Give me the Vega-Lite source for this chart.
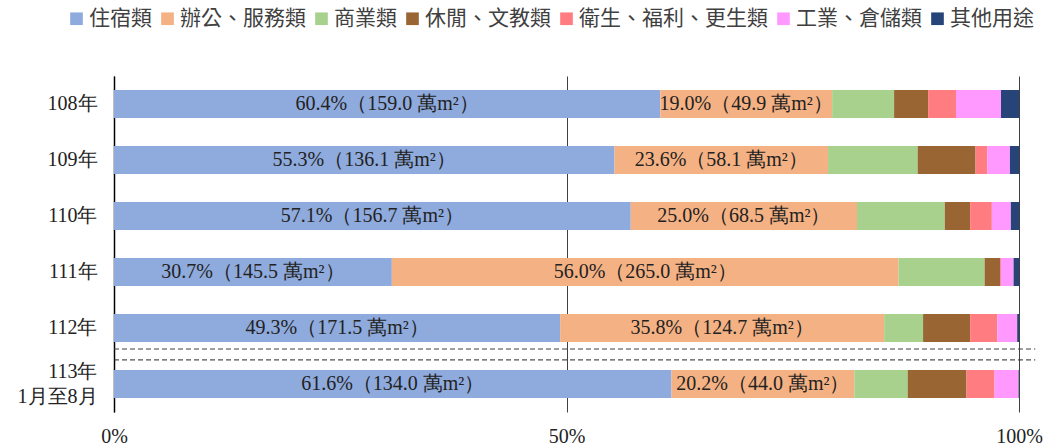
{
  "$schema": "https://vega.github.io/schema/vega-lite/v6.json",
  "width": 905,
  "height": 336,
  "autosize": {"type": "none"},
  "padding": {"left": 114, "top": 76, "right": 25, "bottom": 33},
  "background": "white",
  "config": {"view": {"stroke": null}},
  "data": {
    "values": [
      {"year": "108年", "cat": "住宿類", "k": 1, "pct": 60.4, "label": "60.4%（159.0 萬m²）"},
      {"year": "108年", "cat": "辦公、服務類", "k": 2, "pct": 19.0, "label": "19.0%（49.9 萬m²）"},
      {"year": "108年", "cat": "商業類", "k": 3, "pct": 6.85, "label": ""},
      {"year": "108年", "cat": "休閒、文教類", "k": 4, "pct": 3.76, "label": ""},
      {"year": "108年", "cat": "衛生、福利、更生類", "k": 5, "pct": 3.09, "label": ""},
      {"year": "108年", "cat": "工業、倉儲類", "k": 6, "pct": 4.97, "label": ""},
      {"year": "108年", "cat": "其他用途", "k": 7, "pct": 1.99, "label": ""},
      {"year": "109年", "cat": "住宿類", "k": 1, "pct": 55.3, "label": "55.3%（136.1 萬m²）"},
      {"year": "109年", "cat": "辦公、服務類", "k": 2, "pct": 23.6, "label": "23.6%（58.1 萬m²）"},
      {"year": "109年", "cat": "商業類", "k": 3, "pct": 9.9, "label": ""},
      {"year": "109年", "cat": "休閒、文教類", "k": 4, "pct": 6.4, "label": ""},
      {"year": "109年", "cat": "衛生、福利、更生類", "k": 5, "pct": 1.3, "label": ""},
      {"year": "109年", "cat": "工業、倉儲類", "k": 6, "pct": 2.5, "label": ""},
      {"year": "109年", "cat": "其他用途", "k": 7, "pct": 1.0, "label": ""},
      {"year": "110年", "cat": "住宿類", "k": 1, "pct": 57.1, "label": "57.1%（156.7 萬m²）"},
      {"year": "110年", "cat": "辦公、服務類", "k": 2, "pct": 25.0, "label": "25.0%（68.5 萬m²）"},
      {"year": "110年", "cat": "商業類", "k": 3, "pct": 9.7, "label": ""},
      {"year": "110年", "cat": "休閒、文教類", "k": 4, "pct": 2.8, "label": ""},
      {"year": "110年", "cat": "衛生、福利、更生類", "k": 5, "pct": 2.4, "label": ""},
      {"year": "110年", "cat": "工業、倉儲類", "k": 6, "pct": 2.1, "label": ""},
      {"year": "110年", "cat": "其他用途", "k": 7, "pct": 0.9, "label": ""},
      {"year": "111年", "cat": "住宿類", "k": 1, "pct": 30.7, "label": "30.7%（145.5 萬m²）"},
      {"year": "111年", "cat": "辦公、服務類", "k": 2, "pct": 56.0, "label": "56.0%（265.0 萬m²）"},
      {"year": "111年", "cat": "商業類", "k": 3, "pct": 9.5, "label": ""},
      {"year": "111年", "cat": "休閒、文教類", "k": 4, "pct": 1.7, "label": ""},
      {"year": "111年", "cat": "衛生、福利、更生類", "k": 5, "pct": 0.1, "label": ""},
      {"year": "111年", "cat": "工業、倉儲類", "k": 6, "pct": 1.4, "label": ""},
      {"year": "111年", "cat": "其他用途", "k": 7, "pct": 0.6, "label": ""},
      {"year": "112年", "cat": "住宿類", "k": 1, "pct": 49.3, "label": "49.3%（171.5 萬m²）"},
      {"year": "112年", "cat": "辦公、服務類", "k": 2, "pct": 35.8, "label": "35.8%（124.7 萬m²）"},
      {"year": "112年", "cat": "商業類", "k": 3, "pct": 4.3, "label": ""},
      {"year": "112年", "cat": "休閒、文教類", "k": 4, "pct": 5.2, "label": ""},
      {"year": "112年", "cat": "衛生、福利、更生類", "k": 5, "pct": 3.0, "label": ""},
      {"year": "112年", "cat": "工業、倉儲類", "k": 6, "pct": 2.2, "label": ""},
      {"year": "112年", "cat": "其他用途", "k": 7, "pct": 0.2, "label": ""},
      {"year": "113年1月至8月", "cat": "住宿類", "k": 1, "pct": 61.6, "label": "61.6%（134.0 萬m²）"},
      {"year": "113年1月至8月", "cat": "辦公、服務類", "k": 2, "pct": 20.2, "label": "20.2%（44.0 萬m²）"},
      {"year": "113年1月至8月", "cat": "商業類", "k": 3, "pct": 5.9, "label": ""},
      {"year": "113年1月至8月", "cat": "休閒、文教類", "k": 4, "pct": 6.5, "label": ""},
      {"year": "113年1月至8月", "cat": "衛生、福利、更生類", "k": 5, "pct": 3.1, "label": ""},
      {"year": "113年1月至8月", "cat": "工業、倉儲類", "k": 6, "pct": 2.65, "label": ""},
      {"year": "113年1月至8月", "cat": "其他用途", "k": 7, "pct": 0.05, "label": ""}
    ]
  },
  "layer": [
    {
      "mark": {"type": "bar"},
      "encoding": {
        "y": {
          "field": "year", "type": "nominal", "sort": null,
          "scale": {"domain": ["108年", "109年", "110年", "111年", "112年", "113年1月至8月"], "paddingInner": 0.5, "paddingOuter": 0.25},
          "axis": {
            "title": null, "ticks": false, "domain": true, "domainColor": "#000000", "domainWidth": 1.5,
            "labelFont": "Liberation Serif", "labelFontSize": 20, "labelColor": "#222222",
            "labelPadding": 17, "labelLineHeight": 25,
            "labelOffset": {"condition": {"test": "datum.value == '113年1月至8月'", "value": -12.5}, "value": 0},
            "labelExpr": "datum.value == '113年1月至8月' ? ['113年', '1月至8月'] : datum.value"
          }
        },
        "x": {
          "field": "pct", "type": "quantitative", "stack": "normalize",
          "scale": {"domain": [0, 1]},
          "axis": {
            "title": null, "values": [0, 0.5, 1], "format": ".0%", "grid": true, "gridColor": "#404040", "gridWidth": 1,
            "domain": false, "ticks": false, "labelFlush": false,
            "labelFont": "Liberation Serif", "labelFontSize": 20, "labelColor": "#222222", "labelPadding": 14
          }
        },
        "color": {
          "field": "cat", "type": "nominal",
          "scale": {
            "domain": ["住宿類", "辦公、服務類", "商業類", "休閒、文教類", "衛生、福利、更生類", "工業、倉儲類", "其他用途"],
            "range": ["#8FAADC", "#F4B183", "#A9D18E", "#996633", "#FF7C80", "#FF99FF", "#264478"]
          },
          "legend": {
            "title": null, "orient": "none", "legendX": -48, "legendY": -68, "direction": "horizontal",
            "symbolType": "square", "symbolSize": 160, "symbolStrokeWidth": 0,
            "labelFont": "Noto Sans CJK TC", "labelFontSize": 21, "labelColor": "#404040", "labelLimit": 400,
            "columnPadding": 5, "labelOffset": 2
          }
        },
        "order": {"field": "k", "type": "quantitative"}
      }
    },
    {
      "mark": {"type": "text", "font": "Liberation Serif", "fontSize": 20, "color": "#222222", "align": "center", "baseline": "middle"},
      "encoding": {
        "y": {"field": "year", "type": "nominal", "sort": null},
        "x": {"field": "pct", "type": "quantitative", "stack": "normalize", "bandPosition": 0.5},
        "detail": {"field": "cat"},
        "text": {"field": "label"},
        "order": {"field": "k", "type": "quantitative"}
      }
    },
    {
      "data": {"values": [{}]},
      "mark": {"type": "rule", "strokeDash": [5, 3], "strokeWidth": 1},
      "encoding": {
        "x": {"datum": 0, "type": "quantitative"},
        "x2": {"datum": 1.018},
        "y": {"datum": "112年", "type": "nominal", "bandPosition": 1.25},
        "color": {"value": "#404040"}
      }
    },
    {
      "data": {"values": [{}]},
      "mark": {"type": "rule", "strokeDash": [5, 3], "strokeWidth": 1},
      "encoding": {
        "x": {"datum": 0, "type": "quantitative"},
        "x2": {"datum": 1.018},
        "y": {"datum": "112年", "type": "nominal", "bandPosition": 1.64},
        "color": {"value": "#262626"}
      }
    }
  ]
}
